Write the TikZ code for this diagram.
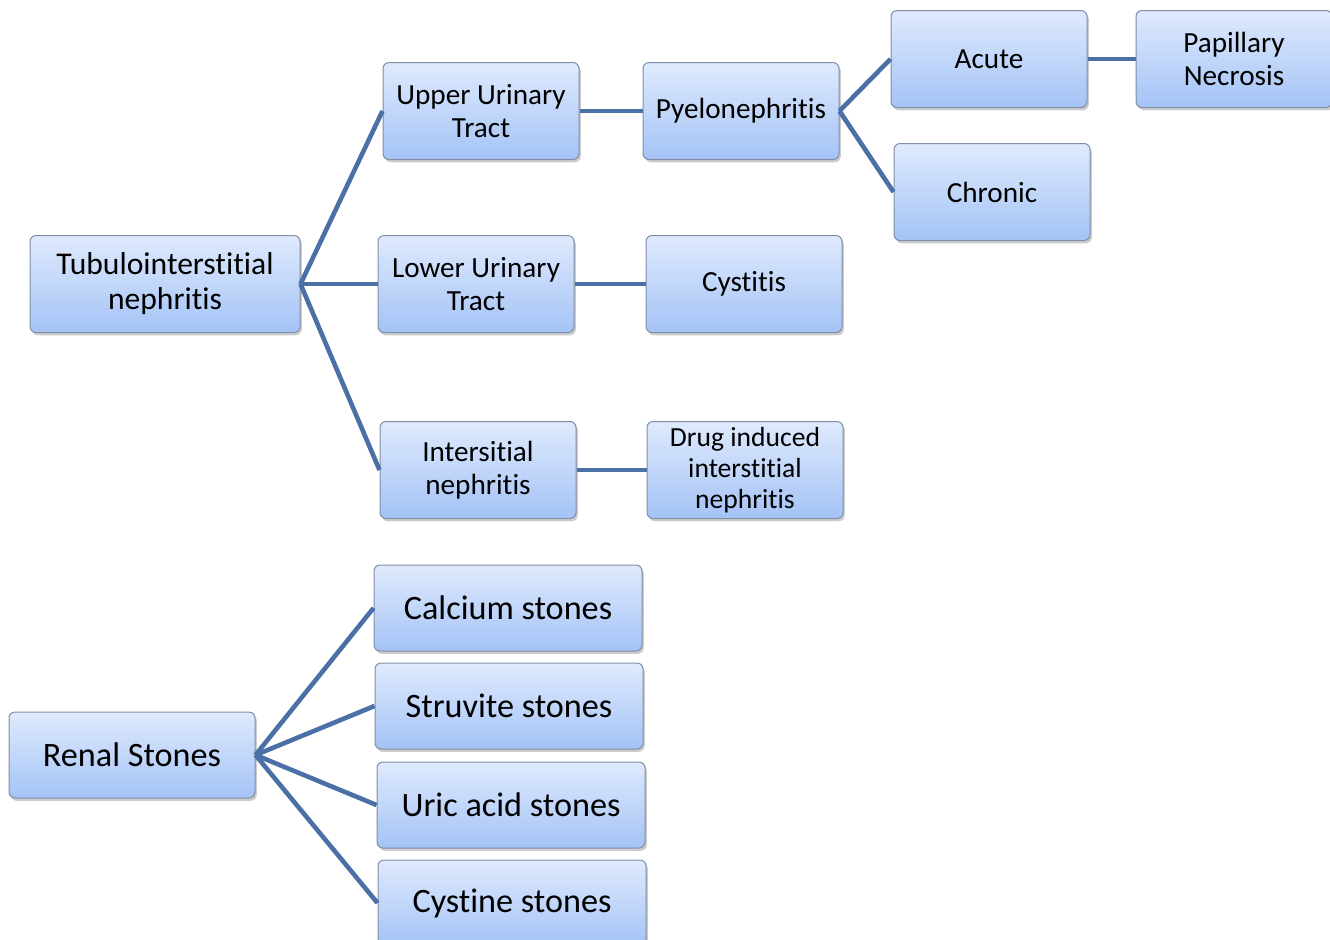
\documentclass[tikz,border=0pt]{standalone}
\usepackage{fontspec}
\setmainfont[RawFeature={-liga;-calt;-dlig;-clig}]{Carlito}
\usetikzlibrary{shadows}
\definecolor{boxtop}{RGB}{223,234,253}
\definecolor{boxbot}{RGB}{164,195,246}
\definecolor{boxline}{RGB}{128,142,166}
\definecolor{linkblue}{RGB}{74,112,166}

\begin{document}
\begin{tikzpicture}[x=0.5pt,y=-0.5pt,
  box/.style={draw=boxline, line width=0.5pt, rounded corners=3pt, top color=boxtop, bottom color=boxbot,
    align=center, inner sep=2pt, minimum width=98pt, minimum height=48.5pt,
    drop shadow={shadow xshift=0.9pt, shadow yshift=-1.4pt, opacity=0.4},
    font=\fontsize{14.6}{16.5}\selectfont},
  stone/.style={box, minimum width=134pt, minimum height=43pt, font=\fontsize{17.1}{20}\selectfont},
  link/.style={draw=linkblue, line width=2.3pt}]
  \useasboundingbox (0,0) rectangle (1330,939);
  % first tree
  \node[box, minimum width=135pt, font=\fontsize{15.8}{17.5}\selectfont] (tub) at (165,284) {Tubulointerstitial\\nephritis};
  \node[box] (upper) at (481,111) {Upper Urinary\\Tract};
  \node[box] (lower) at (476,284) {Lower Urinary\\Tract};
  \node[box] (inters) at (478,470) {Intersitial\\nephritis};
  \node[box] (pyelo) at (741,111) {Pyelonephritis};
  \node[box] (cyst) at (744,284) {Cystitis};
  \node[box, font=\fontsize{13.8}{15.5}\selectfont] (drug) at (745,470) {Drug induced\\interstitial\\nephritis};
  \node[box] (acute) at (989,59) {Acute};
  \node[box] (chronic) at (992,192) {Chronic};
  \node[box] (papil) at (1234,59) {Papillary\\Necrosis};
  \draw[link] (tub.east) -- (upper.west);
  \draw[link] (tub.east) -- (lower.west);
  \draw[link] (tub.east) -- (inters.west);
  \draw[link] (upper) -- (pyelo);
  \draw[link] (lower) -- (cyst);
  \draw[link] (inters) -- (drug);
  \draw[link] (pyelo.east) -- (acute.west);
  \draw[link] (pyelo.east) -- (chronic.west);
  \draw[link] (acute) -- (papil);
  % second tree
  \node[stone, minimum width=123pt] (renal) at (132,755) {Renal Stones};
  \node[stone] (calc) at (508,608) {Calcium stones};
  \node[stone] (struv) at (509,706) {Struvite stones};
  \node[stone] (uric) at (511,805) {Uric acid stones};
  \node[stone] (cystine) at (512,903) {Cystine stones};
  \foreach \s in {calc,struv,uric,cystine}
    \draw[link] (renal.east) -- (\s.west);
\end{tikzpicture}
\end{document}
